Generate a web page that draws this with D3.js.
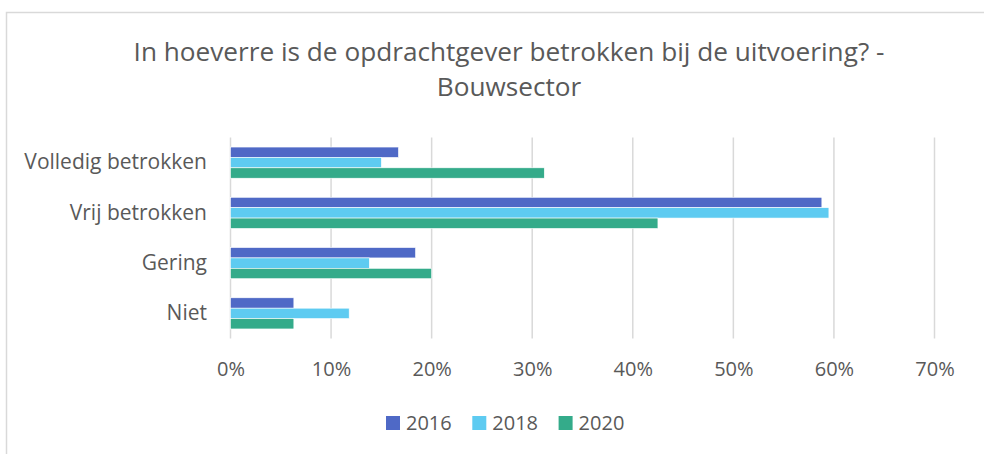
<!DOCTYPE html>
<html>
<head>
<meta charset="utf-8">
<script src="https://cdn.jsdelivr.net/npm/d3@7"></script>
<style>
  body { margin: 0; background: #fff; }
  svg { display: block; font-family: "Open Sans", sans-serif; }
</style>
</head>
<body>
<div id="chart"></div>
<script>
// data
var categories = ['Volledig betrokken', 'Vrij betrokken', 'Gering', 'Niet'];
var years = ['2016', '2018', '2020'];
var values2016 = [16.7, 58.8, 18.4, 6.3];
var values2018 = [15.0, 59.5, 13.8, 11.8];
var values2020 = [31.2, 42.5, 20.0, 6.3];
var xTicks = [0, 10, 20, 30, 40, 50, 60, 70];
var titleLines = ['In hoeverre is de opdrachtgever betrokken bij de uitvoering? -', 'Bouwsector'];

var colors = ['#4f69c6', '#5ecbf1', '#34ab8a'];
var series = [values2016, values2018, values2020];

var width = 984, height = 454;
var plotLeft = 230.5, plotRight = 934.5, plotTop = 137.5, plotBottom = 338.5;
var textColor = '#595959';
var gridColor = '#d9d9d9';

var svg = d3.select('#chart').append('svg')
    .attr('width', width)
    .attr('height', height);

// chart border (only top/left visible in the crop)
svg.append('rect')
    .attr('x', 6.5).attr('y', 12.5)
    .attr('width', 1000).attr('height', 500)
    .attr('fill', 'none')
    .attr('stroke', gridColor)
    .attr('stroke-width', 1.5);

// title
svg.append('g').selectAll('text')
    .data(titleLines)
    .enter().append('text')
    .attr('x', 509)
    .attr('y', (d, i) => 61 + i * 35)
    .attr('text-anchor', 'middle')
    .attr('fill', textColor)
    .attr('font-size', 26.2)
    .text(d => d);

var xScale = d3.scaleLinear().domain([0, 70]).range([plotLeft, plotRight]);
var yScale = d3.scaleBand().domain(categories).range([plotTop, plotBottom])
    .paddingInner(0.38).paddingOuter(0.19);
var ySub = d3.scaleBand().domain(years).range([0, yScale.bandwidth()]);

// gridlines
svg.append('g').selectAll('line')
    .data(xTicks)
    .enter().append('line')
    .attr('x1', d => xScale(d)).attr('x2', d => xScale(d))
    .attr('y1', plotTop).attr('y2', plotBottom)
    .attr('stroke', gridColor)
    .attr('stroke-width', 1.5);

// x axis labels
var xAxis = d3.axisBottom(xScale).tickValues(xTicks).tickFormat(d => d + '%').tickSize(0).tickPadding(0);
var xg = svg.append('g')
    .attr('transform', 'translate(0,' + 362 + ')')
    .call(xAxis);
xg.select('.domain').remove();
xg.selectAll('text')
    .attr('dy', '0.71em')
    .attr('fill', textColor)
    .attr('font-size', 20)
    .attr('font-family', '"Open Sans", sans-serif');

// category labels
var yAxis = d3.axisLeft(yScale).tickSize(0).tickPadding(0);
var yg = svg.append('g')
    .attr('transform', 'translate(207,0)')
    .call(yAxis);
yg.select('.domain').remove();
yg.selectAll('text')
    .attr('fill', textColor)
    .attr('font-size', 21)
    .attr('font-family', '"Open Sans", sans-serif');

// bars
var groups = svg.append('g').selectAll('g')
    .data(categories)
    .enter().append('g')
    .attr('transform', d => 'translate(0,' + yScale(d) + ')');

groups.selectAll('rect')
    .data((c, ci) => years.map((y, yi) => ({ year: y, value: series[yi][ci], idx: yi })))
    .enter().append('rect')
    .attr('x', xScale(0))
    .attr('y', d => ySub(d.year))
    .attr('width', d => xScale(d.value) - xScale(0))
    .attr('height', ySub.bandwidth())
    .attr('fill', d => colors[d.idx])
    .attr('stroke', '#fff')
    .attr('stroke-width', 0.6);

// legend
var legend = svg.append('g').selectAll('g')
    .data(years)
    .enter().append('g')
    .attr('transform', (d, i) => 'translate(' + (386 + i * 86.3) + ',416)');
legend.append('rect')
    .attr('width', 14).attr('height', 14)
    .attr('fill', (d, i) => colors[i]);
legend.append('text')
    .attr('x', 20).attr('y', 14)
    .attr('fill', textColor)
    .attr('font-size', 20)
    .text(d => d);
</script>
</body>
</html>
